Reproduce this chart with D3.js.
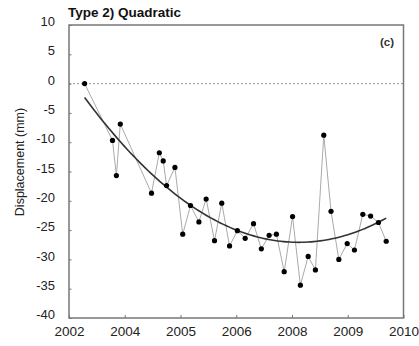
<!DOCTYPE html>
<html>
<head>
<meta charset="utf-8">
<script src="https://cdn.jsdelivr.net/npm/d3@7"></script>
<style>
  html, body { margin: 0; padding: 0; background: #fff; }
  svg { display: block; font-family: "Liberation Sans", Arial, sans-serif; }
</style>
</head>
<body>
<svg id="chart" width="419" height="346"></svg>
<script>
// Time positions in axis units (one unit per labelled tick), displacement in mm
const obsTime = [0.28, 0.78, 0.85, 0.92, 1.48, 1.62, 1.69, 1.75, 1.90, 2.04,
                 2.18, 2.33, 2.46, 2.61, 2.74, 2.88, 3.02, 3.16, 3.31, 3.45,
                 3.59, 3.72, 3.86, 4.01, 4.15, 4.29, 4.42, 4.57, 4.70, 4.84,
                 4.99, 5.12, 5.27, 5.41, 5.55, 5.69];
const displacement = [0, -9.7, -15.7, -6.9, -18.7, -11.8, -13.2, -17.4, -14.3, -25.7,
                      -20.8, -23.6, -19.7, -26.8, -20.4, -27.7, -25.1, -26.4, -23.9, -28.2,
                      -25.9, -25.7, -32.1, -22.7, -34.4, -29.5, -31.8, -8.8, -21.8, -30.0,
                      -27.3, -28.4, -22.3, -22.6, -23.7, -26.9];
const xTickLabels = ["2002", "2004", "2005", "2006", "2008", "2009", "2010"];
const yTicks = [10, 5, 0, -5, -10, -15, -20, -25, -30, -35, -40];

const margin = { left: 69, top: 25, right: 15.5, bottom: 28 };
const W = 419, H = 346;
const svg = d3.select("#chart");

const x = d3.scaleLinear().domain([0, xTickLabels.length - 1])
  .range([margin.left, W - margin.right]);
const y = d3.scaleLinear().domain([-40, 10])
  .range([H - margin.bottom, margin.top]);

// Zero reference line
svg.append("line")
  .attr("x1", x(0)).attr("x2", x(6))
  .attr("y1", y(0)).attr("y2", y(0))
  .attr("stroke", "#999").attr("stroke-width", 1)
  .attr("stroke-dasharray", "2,2");

// Observations connected by a thin grey line
const pts = obsTime.map((t, i) => [t, displacement[i]]);
svg.append("path")
  .datum(pts)
  .attr("fill", "none")
  .attr("stroke", "#aaa")
  .attr("stroke-width", 1)
  .attr("d", d3.line().x(d => x(d[0])).y(d => y(d[1])));

// Least-squares quadratic trend through the observations
function quadFit(xs, ys) {
  const n = xs.length;
  let s = [0, 0, 0, 0, 0], t = [0, 0, 0];
  for (let i = 0; i < n; i++) {
    const xi = xs[i], yi = ys[i];
    let p = 1;
    for (let k = 0; k < 5; k++) { s[k] += p; if (k < 3) t[k] += p * yi; p *= xi; }
  }
  const A = [[s[0], s[1], s[2], t[0]], [s[1], s[2], s[3], t[1]], [s[2], s[3], s[4], t[2]]];
  for (let c = 0; c < 3; c++) {
    for (let r = c + 1; r < 3; r++) {
      const f = A[r][c] / A[c][c];
      for (let k = c; k < 4; k++) A[r][k] -= f * A[c][k];
    }
  }
  const b = [0, 0, 0];
  for (let r = 2; r >= 0; r--) {
    let v = A[r][3];
    for (let k = r + 1; k < 3; k++) v -= A[r][k] * b[k];
    b[r] = v / A[r][r];
  }
  return b;
}
const coef = quadFit(obsTime, displacement);
const t0 = d3.min(obsTime), t1 = d3.max(obsTime);
const fitPts = d3.range(0, 101).map(i => {
  const t = t0 + (t1 - t0) * i / 100;
  return [t, coef[0] + coef[1] * t + coef[2] * t * t];
});
svg.append("path")
  .datum(fitPts)
  .attr("fill", "none")
  .attr("stroke", "#333")
  .attr("stroke-width", 1.6)
  .attr("d", d3.line().x(d => x(d[0])).y(d => y(d[1])));

// Observation markers
svg.append("g").selectAll("circle")
  .data(pts).join("circle")
  .attr("cx", d => x(d[0])).attr("cy", d => y(d[1]))
  .attr("r", 2.6).attr("fill", "#000");

// Frame
svg.append("rect")
  .attr("x", x(0)).attr("y", y(10))
  .attr("width", x(6) - x(0)).attr("height", y(-40) - y(10))
  .attr("fill", "none").attr("stroke", "#777").attr("stroke-width", 1.5);

// Axes with inward ticks
const xAxis = d3.axisBottom(x)
  .tickValues(d3.range(xTickLabels.length))
  .tickFormat(i => xTickLabels[i])
  .tickSizeInner(-3).tickSizeOuter(0).tickPadding(8);
const gx = svg.append("g").attr("transform", `translate(0,${y(-40)})`).call(xAxis);
gx.select(".domain").remove();
gx.selectAll(".tick line").attr("stroke", "#777");
gx.selectAll("text").attr("font-size", 13.5).attr("fill", "#222")
  .attr("font-family", "Liberation Sans, Arial, sans-serif");

// Plain hyphen for negative labels
const yAxis = d3.axisLeft(y)
  .tickValues(yTicks)
  .tickFormat(d => String(d))
  .tickSizeInner(-2.5).tickSizeOuter(0).tickPadding(14);
const gy = svg.append("g").attr("transform", `translate(${x(0)},0)`).call(yAxis);
gy.select(".domain").remove();
gy.selectAll(".tick line").attr("stroke", "#777");
gy.selectAll("text").attr("font-size", 13).attr("fill", "#222")
  .attr("dy", "0.05em")
  .attr("font-family", "Liberation Sans, Arial, sans-serif");

// Titles
svg.append("text")
  .attr("x", 68).attr("y", 16.5)
  .attr("font-size", 13.5).attr("font-weight", "bold").attr("fill", "#111")
  .text("Type 2) Quadratic");

svg.append("text")
  .attr("x", 394).attr("y", 45.5)
  .attr("text-anchor", "end")
  .attr("font-size", 11.5).attr("font-weight", "bold").attr("fill", "#333")
  .text("(c)");

svg.append("text")
  .attr("transform", `translate(23.5,162) rotate(-90)`)
  .attr("text-anchor", "middle")
  .attr("font-size", 12.5).attr("fill", "#222")
  .text("Displacement (mm)");
</script>
</body>
</html>
